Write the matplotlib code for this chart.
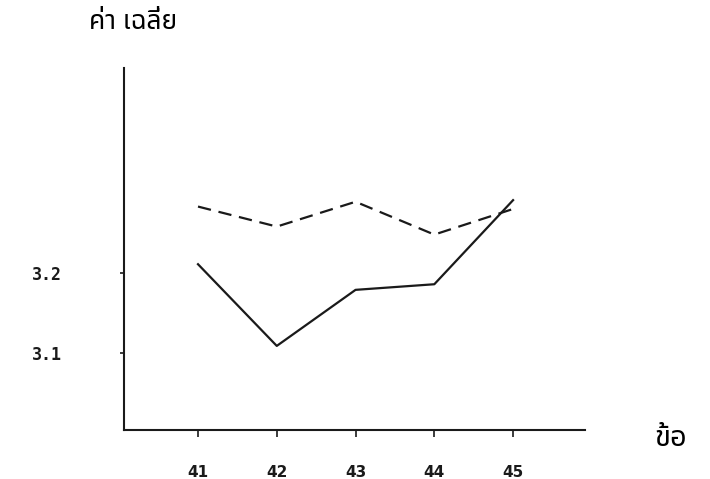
import matplotlib.pyplot as plt
from matplotlib import font_manager

items = [41, 42, 43, 44, 45]
solid_means = [3.211, 3.109, 3.179, 3.186, 3.291]
dashed_means = [3.283, 3.258, 3.289, 3.248, 3.280]
y_ticks = [3.1, 3.2]
y_labels = ['3.1', '3.2']
y_title = 'ค่า เฉลี่ย'
x_title = 'ข้อ'

# pick a font that can draw Thai, fall back to DejaVu
names = set(f.name for f in font_manager.fontManager.ttflist)
thai = [n for n in ['Noto Sans Thai', 'Loma', 'Garuda'] if n in names]
thai_family = thai + ['DejaVu Sans']

fig = plt.figure(figsize=(7.1, 4.79), dpi=100)
ax = fig.add_axes([0.1746, 0.1023, 0.649, 0.7557])

ax.plot(items, solid_means, color='#1a1a1a', lw=1.6)
ax.plot(items, dashed_means, color='#1a1a1a', lw=1.6, dashes=(6, 3.5))

ax.set_xlim(40.06, 45.91)
ax.set_ylim(3.004, 3.456)

for s in ['top', 'right']:
    ax.spines[s].set_visible(False)
for s in ['left', 'bottom']:
    ax.spines[s].set_linewidth(1.5)
    ax.spines[s].set_color('#1a1a1a')

ax.set_xticks(items)
ax.set_xticklabels([str(i) for i in items], fontsize=11, fontweight='bold',
                   family='DejaVu Sans')
ax.set_yticks(y_ticks)
ax.set_yticklabels(y_labels, fontsize=12, fontweight='bold', family='DejaVu Sans Mono')
ax.tick_params(axis='x', length=5, width=1.2, pad=20, colors='#1a1a1a')
ax.tick_params(axis='y', length=3, width=1.2, pad=42, colors='#1a1a1a')

fig.text(0.125, 0.955, y_title, fontsize=19, family=thai_family, va='center', ha='left',
         fontweight='bold')
fig.text(0.922, 0.085, x_title, fontsize=21, family=thai_family, va='center', ha='left',
         fontweight='bold')

fig.savefig('out.png', dpi=100)
